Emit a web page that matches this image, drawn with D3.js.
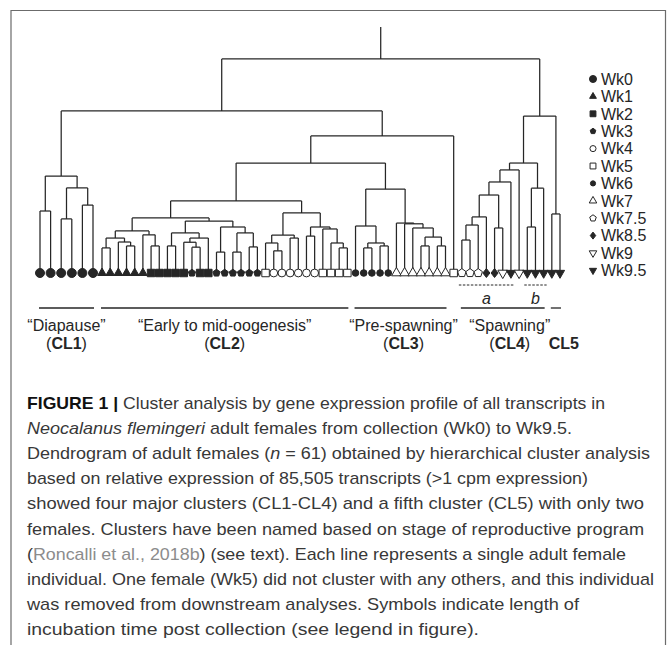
<!DOCTYPE html>
<html>
<head>
<meta charset="utf-8">
<script src="https://cdn.jsdelivr.net/npm/d3@7"></script>
<style>
body { margin: 0; background: #fff; }
svg { display: block; font-family: "Liberation Sans", Arial, sans-serif; }
</style>
</head>
<body>
<svg id="chart" width="672" height="645"></svg>
<script>
// ---- data ----

// incubation week of each female, in dendrogram leaf order
var leafWeeks = [
  "Wk0", "Wk0", "Wk0", "Wk0", "Wk0", "Wk0",
  "Wk1", "Wk1", "Wk1", "Wk1", "Wk1", "Wk1",
  "Wk2", "Wk2", "Wk2", "Wk2", "Wk2", "Wk3", "Wk2", "Wk2",
  "Wk3", "Wk3", "Wk3", "Wk3", "Wk3", "Wk3",
  "Wk5", "Wk4", "Wk4", "Wk4", "Wk4", "Wk4", "Wk4",
  "Wk5", "Wk5", "Wk5", "Wk5",
  "Wk6", "Wk6", "Wk6", "Wk6", "Wk6",
  "Wk7", "Wk7", "Wk7", "Wk7", "Wk7", "Wk7", "Wk7",
  "Wk5",
  "Wk7.5", "Wk7.5", "Wk7.5", "Wk8.5", "Wk8.5",
  "Wk9", "Wk9.5", "Wk9", "Wk9.5", "Wk9.5", "Wk9.5",
  "Wk9.5", "Wk9.5"
];

// merge tree: [height, left, right], numbers are leaf indices
var tree = [0.870,
  [0.659,
    [0.394, [0.252, 0, 1], [0.346, [0.220, 2, 3], [0.276, 4, 5]]],
    [0.557,
      [0.447,
        [0.293,
          [0.224,
            [0.171,
              [0.142, [0.102, 6, 7], [0.126, 8, [0.110, 9, 10]]],
              [0.155, 11, [0.110, 12, 13]]],
            [0.211,
              [0.163, [0.110, 14, 15], [0.142, [0.125, 16, [0.105, 17, 18]], 19]],
              [0.187, [0.085, 20, 21], [0.163, [0.085, 22, 23], [0.106, 24, 25]]]]],
          [0.244,
            [0.154, [0.122, 26, [0.090, 27, 28]], [0.142, 29, 30]],
            [0.187, [0.150, 31, 32], [0.179, 33, [0.122, 34, [0.102, 35, 36]]]]]],
        [0.341,
          [0.191, 37, [0.122, [0.102, 38, 39], [0.110, 40, 41]]],
          [0.203, 42, [0.200, 43, [0.183, 44, [0.146, [0.110, 45, 46], [0.110, 47, 48]]]]]]],
      49]],
  [0.638,
    [0.447,
      [0.419, [0.370, [0.317, [0.228, [0.195, [0.134, 50, 51], 52], 53], [0.183, 54, 55]], 56], 57],
      [0.345, [0.187, 58, 59], 60]],
    [0.240, 61, 62]]];

var legendWeeks = ["Wk0", "Wk1", "Wk2", "Wk3", "Wk4", "Wk5", "Wk6", "Wk7", "Wk7.5", "Wk8.5", "Wk9", "Wk9.5"];

// clusters as leaf index ranges
var clusters = [
  { name: "CL1", stage: "Diapause", first: 0, last: 5 },
  { name: "CL2", stage: "Early to mid-oogenesis", first: 6, last: 36 },
  { name: "CL3", stage: "Pre-spawning", first: 37, last: 48 },
  { name: "CL4", stage: "Spawning", first: 50, last: 60 },
  { name: "CL5", stage: "", first: 61, last: 62 }
];
var subClusters = [
  { name: "a", first: 50, last: 56 },
  { name: "b", first: 58, last: 60 }
];

var captionLines = [
  [["FIGURE 1 |", "b"], [" Cluster analysis by gene expression profile of all transcripts in", ""]],
  [["Neocalanus flemingeri", "i"], [" adult females from collection (Wk0) to Wk9.5.", ""]],
  [["Dendrogram of adult females (", ""], ["n", "i"], [" = 61) obtained by hierarchical cluster analysis", ""]],
  [["based on relative expression of 85,505 transcripts (>1 cpm expression)", ""]],
  [["showed four major clusters (CL1-CL4) and a fifth cluster (CL5) with only two", ""]],
  [["females. Clusters have been named based on stage of reproductive program", ""]],
  [["(", ""], ["Roncalli et al., 2018b", "l"], [") (see text). Each line represents a single adult female", ""]],
  [["individual. One female (Wk5) did not cluster with any others, and this individual", ""]],
  [["was removed from downstream analyses. Symbols indicate length of", ""]],
  [["incubation time post collection (see legend in figure).", ""]]
];
// rendered width of each caption line
var captionFit = [578, 545, 623, 561, 617, 617, 599, 627, 552, 452];
// nudges for cluster labels that would otherwise touch
var labelShift = { CL3: 3, CL4: 7, CL5: 8 };

// ---- layout ----
var svg = d3.select("#chart");
var ink = "#262626";
var n = leafWeeks.length;

// the diapause leaves sit a little wider apart than the rest
var x = d3.scaleLinear().domain([0, 5, 6, n - 1]).range([40, 93, 102, 560]);
var y = d3.scaleLinear().domain([0, 1]).range([273, 27]);

// frame
svg.append("path")
  .attr("d", "M11,700 V10.5 H665.5 V700")
  .attr("fill", "none")
  .attr("stroke", "#6b6b6b")
  .attr("stroke-width", 1.2);

// symbols
function poly(k, r, rot) {
  var pts = d3.range(k).map(function(i) {
    var a = rot + i * 2 * Math.PI / k;
    return [r * Math.cos(a), r * Math.sin(a)];
  });
  return "M" + pts.join("L") + "Z";
}
function circle(r) {
  return d3.symbol(d3.symbolCircle, Math.PI * r * r)();
}
function symbolFor(wk, s) {
  switch (wk) {
    case "Wk0": return [circle(4.5 * s), true];
    case "Wk1": return [poly(3, 5 * s, -Math.PI / 2), true];
    case "Wk2": return [poly(4, 5.3 * s, Math.PI / 4), true];
    case "Wk3": return [poly(5, 3.8 * s, -Math.PI / 2), true];
    case "Wk4": return [circle(3.9 * s), false];
    case "Wk5": return [poly(4, 5.3 * s, Math.PI / 4), false];
    case "Wk6": return [circle(3.3 * s), true];
    case "Wk7": return [poly(3, 5.6 * s, -Math.PI / 2), false];
    case "Wk7.5": return [poly(5, 4.4 * s, -Math.PI / 2), false];
    case "Wk8.5": return ["M0," + (-4.5 * s) + "L" + (3.5 * s) + ",0L0," + (4.5 * s) + "L" + (-3.5 * s) + ",0Z", true];
    case "Wk9": return [poly(3, 5.6 * s, Math.PI / 2), false];
    default: return [poly(3, 5.3 * s, Math.PI / 2), true];
  }
}
function drawSymbol(g, wk, s) {
  var sym = symbolFor(wk, s);
  g.append("path")
    .attr("d", sym[0])
    .attr("fill", sym[1] ? ink : "#fff")
    .attr("stroke", ink)
    .attr("stroke-width", 1);
}

// dendrogram
var root = d3.hierarchy(tree, function(d) { return Array.isArray(d) ? d.slice(1) : null; });
root.eachAfter(function(nd) {
  nd.h = Array.isArray(nd.data) ? nd.data[0] : 0;
  nd.x = nd.children
    ? (nd.children[0].x + nd.children[nd.children.length - 1].x) / 2
    : x(nd.data);
});

var links = svg.append("g")
  .attr("fill", "none")
  .attr("stroke", ink)
  .attr("stroke-width", 1.25);

links.append("line")
  .attr("x1", root.x).attr("x2", root.x)
  .attr("y1", y(root.h)).attr("y2", y(1));

root.each(function(nd) {
  if (!nd.children) return;
  links.append("line")
    .attr("x1", nd.children[0].x)
    .attr("x2", nd.children[nd.children.length - 1].x)
    .attr("y1", y(nd.h)).attr("y2", y(nd.h));
  nd.children.forEach(function(c) {
    links.append("line")
      .attr("x1", c.x).attr("x2", c.x)
      .attr("y1", y(nd.h)).attr("y2", y(c.h));
  });
});

// leaf symbols
root.leaves().forEach(function(nd) {
  var g = svg.append("g").attr("transform", "translate(" + nd.x + "," + y(0) + ")");
  drawSymbol(g, leafWeeks[nd.data], 1);
});

// legend
legendWeeks.forEach(function(wk, i) {
  var g = svg.append("g").attr("transform", "translate(593," + (79 + i * 17.4) + ")");
  drawSymbol(g, wk, 0.78);
  g.append("text")
    .attr("x", 8)
    .attr("dy", "0.36em")
    .attr("font-size", 16)
    .attr("fill", ink)
    .text(wk);
});

// cluster bars and labels
var barY = 308;
clusters.forEach(function(c) {
  var x0 = x(c.first) - 1, x1 = x(c.last) + 1;
  var cx = (x0 + x1) / 2 + (labelShift[c.name] || 0);
  svg.append("line")
    .attr("x1", x0).attr("x2", x1)
    .attr("y1", barY).attr("y2", barY)
    .attr("stroke", ink).attr("stroke-width", 1.3);
  if (c.stage) {
    svg.append("text")
      .attr("x", cx).attr("y", barY + 23)
      .attr("text-anchor", "middle")
      .attr("font-size", 16)
      .attr("fill", ink)
      .text("\u201C" + c.stage + "\u201D");
    var t = svg.append("text")
      .attr("x", cx).attr("y", barY + 41)
      .attr("text-anchor", "middle")
      .attr("font-size", 16)
      .attr("fill", ink);
    t.append("tspan").text("(");
    t.append("tspan").attr("font-weight", "bold").text(c.name);
    t.append("tspan").text(")");
  } else {
    svg.append("text")
      .attr("x", cx).attr("y", barY + 41)
      .attr("text-anchor", "middle")
      .attr("font-size", 16)
      .attr("font-weight", "bold")
      .attr("fill", ink)
      .text(c.name);
  }
});

subClusters.forEach(function(c) {
  var x0 = x(c.first) - 3, x1 = x(c.last) + 3;
  svg.append("line")
    .attr("x1", x0).attr("x2", x1)
    .attr("y1", 285).attr("y2", 285)
    .attr("stroke", ink).attr("stroke-width", 1)
    .attr("stroke-dasharray", "2.5,1.5");
  svg.append("text")
    .attr("x", (x0 + x1) / 2).attr("y", 304)
    .attr("text-anchor", "middle")
    .attr("font-size", 16)
    .attr("font-style", "italic")
    .attr("fill", ink)
    .text(c.name);
});

// caption
captionLines.forEach(function(line, i) {
  var t = svg.append("text")
    .attr("x", 27)
    .attr("y", 409 + i * 25.1)
    .attr("font-size", 17)
    .attr("fill", "#383838")
    .attr("textLength", captionFit[i])
    .attr("lengthAdjust", "spacingAndGlyphs");
  line.forEach(function(seg) {
    var s = t.append("tspan").text(seg[0]);
    if (seg[1] === "b") s.attr("font-weight", "bold").attr("fill", "#111");
    if (seg[1] === "i") s.attr("font-style", "italic");
    if (seg[1] === "l") s.attr("fill", "#8c8c8c");
  });
});
</script>
</body>
</html>
